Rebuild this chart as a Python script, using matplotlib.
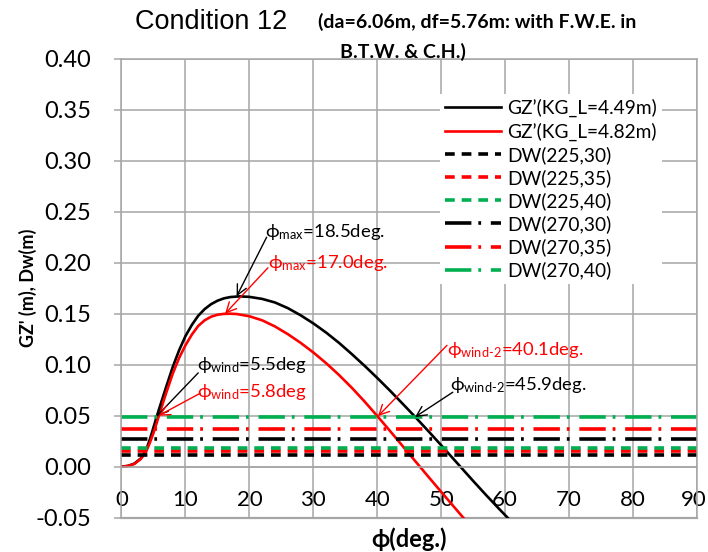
import matplotlib
matplotlib.use("Agg")
import matplotlib.pyplot as plt
import matplotlib.transforms as mtransforms

plt.rcParams['font.family'] = ['Lato', 'DejaVu Sans']
plt.rcParams['mathtext.fontset'] = 'custom'
plt.rcParams['mathtext.rm'] = 'Lato'
plt.rcParams['mathtext.it'] = 'Lato'
plt.rcParams['mathtext.bf'] = 'Lato:bold'
plt.rcParams['mathtext.fallback'] = 'stixsans'
plt.rcParams['lines.scale_dashes'] = False

# GZ' curves (heel angle in deg, lever in m)
phi_a = [0, 1, 2, 3, 3.5, 4, 4.5, 5, 5.5, 6, 7, 8, 9, 10, 11, 12, 13, 14, 15, 16, 17, 18.5,
         20, 22, 24, 26, 28, 30, 32, 34, 36, 38, 40, 42, 44, 45.9, 48, 50, 52, 53, 55, 57, 59, 61]
gz_a = [0.000, 0.0008, 0.003, 0.008, 0.0125, 0.019, 0.028, 0.0385, 0.049, 0.059, 0.0785, 0.0975,
        0.114, 0.128, 0.139, 0.148, 0.1545, 0.1593, 0.1627, 0.165, 0.1663, 0.167,
        0.1665, 0.1645, 0.161, 0.1555, 0.1485, 0.1405, 0.1315, 0.1215, 0.1105, 0.099, 0.087,
        0.0745, 0.0615, 0.049, 0.0348, 0.021, 0.007, 0.000, -0.014, -0.0277, -0.041, -0.054]
phi_b = [0, 1, 2, 3, 3.5, 4, 4.5, 5, 5.5, 5.8, 6, 7, 8, 9, 10, 11, 12, 13, 14, 15, 16, 17, 18,
         20, 22, 24, 26, 28, 30, 32, 34, 36, 38, 40.1, 42, 44, 46, 48, 50, 52, 54]
gz_b = [0.000, 0.0007, 0.0027, 0.0075, 0.0115, 0.017, 0.0245, 0.033, 0.0428, 0.049, 0.0532,
        0.0725, 0.091, 0.1065, 0.119, 0.1295, 0.138, 0.1435, 0.147, 0.149, 0.1498, 0.150,
        0.1497, 0.1475, 0.1435, 0.1375, 0.130, 0.1215, 0.112, 0.1015, 0.090, 0.0775, 0.064,
        0.049, 0.035, 0.020, 0.005, -0.0099, -0.0247, -0.0394, -0.054]

# Wind heeling levers Dw (m)
dw_labels = ["DW(225,30)", "DW(225,35)", "DW(225,40)", "DW(270,30)", "DW(270,35)", "DW(270,40)"]
dw_values = [0.011, 0.015, 0.018, 0.027, 0.037, 0.049]

x_ticks = [0, 10, 20, 30, 40, 50, 60, 70, 80, 90]
y_ticks = [-0.05, 0.00, 0.05, 0.10, 0.15, 0.20, 0.25, 0.30, 0.35, 0.40]

RED = '#FF0000'
GREEN = '#00B050'
GRID = '#A6A6A6'

fig = plt.figure(figsize=(7.08, 5.52), dpi=100)
ax = fig.add_axes([0.1716, 0.0621, 0.8129, 0.8316])

ax.set_xlim(0, 90)
ax.set_ylim(-0.05, 0.40)
ax.set_xticks(x_ticks)
ax.set_yticks(y_ticks)
ax.set_yticklabels([f"{v:.2f}" for v in y_ticks])
ax.grid(True, color=GRID, linewidth=1.1)
ax.set_axisbelow(True)

for s in ['top', 'left', 'right']:
    ax.spines[s].set_color(GRID)
    ax.spines[s].set_linewidth(1.1)
ax.spines['bottom'].set_position(('data', 0))
ax.spines['bottom'].set_color(GRID)
ax.spines['bottom'].set_linewidth(1.1)
ax.axhline(-0.05, color=GRID, linewidth=1.6, clip_on=False)

ax.tick_params(axis='x', length=0, pad=17, labelsize=16)
ax.tick_params(axis='y', length=5, width=1.1, color=GRID, direction='out', pad=17, labelsize=17)

# keep the last x tick label inside the figure edge
last_lbl = ax.get_xticklabels()[-1]
last_lbl.set_transform(last_lbl.get_transform() +
                       mtransforms.ScaledTranslation(-3 / 100, 0, fig.dpi_scale_trans))

# GZ curves
ax.plot(phi_a, gz_a, color='black', lw=1.9, label="GZ’(KG_L=4.49m)")
ax.plot(phi_b, gz_b, color=RED, lw=1.9, label="GZ’(KG_L=4.82m)")

dashed = (0, (7, 5))
dashdot = (0, (19, 5, 2, 7))
dw_styles = [('black', dashed), (RED, dashed), (GREEN, dashed),
             ('black', dashdot), (RED, dashdot), (GREEN, dashdot)]
for lab, val, (c, ls) in zip(dw_labels, dw_values, dw_styles):
    ax.plot([0, 90], [val, val], color=c, lw=2.6, linestyle=ls, label=lab)

leg = ax.legend(loc='upper left', bbox_to_anchor=(0.537, 0.9435), frameon=True, fancybox=False,
                edgecolor='none', facecolor='white', framealpha=1, fontsize=13.8,
                handlelength=2.95, handletextpad=0.3, labelspacing=0.27, borderpad=0.25)

# Annotations
arrow_k = dict(arrowstyle='->', color='black', lw=1.0, mutation_scale=18, shrinkA=0, shrinkB=0)
arrow_r = dict(arrowstyle='->', color=RED, lw=1.0, mutation_scale=18, shrinkA=0, shrinkB=0)
fs_ann = 13.3

ax.text(22.4, 0.230, r'$\phi_{\mathrm{max}}$=18.5deg.', color='black', fontsize=fs_ann, ha='left', va='center')
ax.annotate('', xy=(18.0, 0.167), xytext=(22.7, 0.225), arrowprops=arrow_k)
ax.text(22.9, 0.200, r'$\phi_{\mathrm{max}}$=17.0deg.', color=RED, fontsize=fs_ann, ha='left', va='center')
ax.annotate('', xy=(16.2, 0.150), xytext=(22.9, 0.195), arrowprops=arrow_r)

ax.text(11.8, 0.0995, r'$\phi_{\mathrm{wind}}$=5.5deg', color='black', fontsize=fs_ann, ha='left', va='center')
ax.annotate('', xy=(5.5, 0.0495), xytext=(12.0, 0.092), arrowprops=arrow_k)
ax.text(11.8, 0.073, r'$\phi_{\mathrm{wind}}$=5.8deg', color=RED, fontsize=fs_ann, ha='left', va='center')
ax.annotate('', xy=(5.8, 0.050), xytext=(12.3, 0.072), arrowprops=arrow_r)

ax.text(50.9, 0.1145, r'$\phi_{\mathrm{wind}\text{-}2}$=40.1deg.', color=RED, fontsize=fs_ann, ha='left', va='center')
ax.annotate('', xy=(40.1, 0.0495), xytext=(50.9, 0.119), arrowprops=arrow_r)
ax.text(51.4, 0.080, r'$\phi_{\mathrm{wind}\text{-}2}$=45.9deg.', color='black', fontsize=fs_ann, ha='left', va='center')
ax.annotate('', xy=(45.9, 0.0487), xytext=(51.8, 0.073), arrowprops=arrow_k)

# Axis labels
ax.set_xlabel('ϕ(deg.)', fontsize=17, fontweight='bold')
ax.xaxis.set_label_coords(0.4996, -0.0205)
ax.xaxis.label.set_va('top')
ax.set_ylabel("GZ' (m), Dw(m)", fontsize=13, fontweight='bold')
ax.yaxis.set_label_coords(-0.147, 0.5)

# Title
fig.text(135 / 708, 1 - 22 / 552, 'Condition 12', family=['Liberation Sans'], fontsize=19.5,
         ha='left', va='center')
fig.text(318 / 708, 1 - 22 / 552, '(da=6.06m, df=5.76m: with F.W.E. in', fontsize=14.0,
         fontweight='bold', ha='left', va='center')
fig.text(403 / 708, 1 - 52 / 552, 'B.T.W. & C.H.)', fontsize=14.0, fontweight='bold',
         ha='center', va='center')

fig.savefig('out.png', dpi=100)
